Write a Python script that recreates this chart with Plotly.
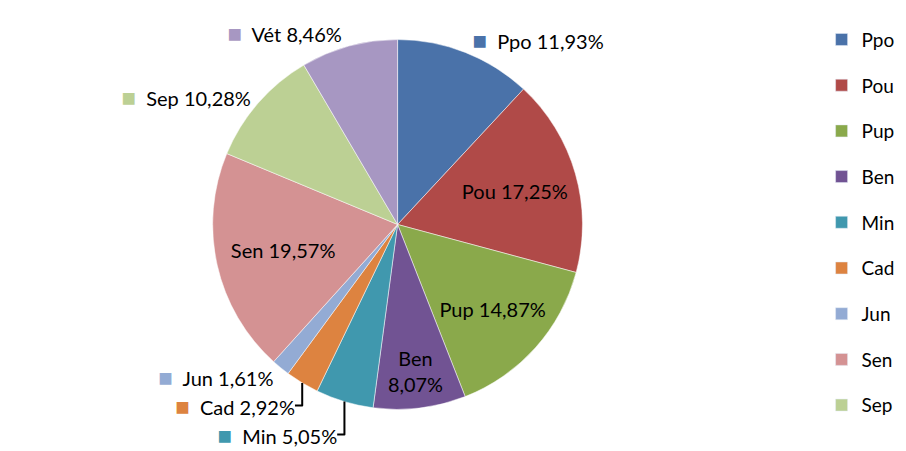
import plotly.graph_objects as go

categories = ["Ppo", "Pou", "Pup", "Ben", "Min", "Cad", "Jun", "Sen", "Sep", "Vét"]
values = [11.93, 17.25, 14.87, 8.07, 5.05, 2.92, 1.61, 19.57, 10.28, 8.46]
colors = ["#4A72A9", "#B04A48", "#8AA94B", "#715393", "#4098AE",
          "#DD8340", "#93ABD4", "#D49293", "#BCD094", "#A797C2"]
inside = ["Pou", "Pup", "Ben", "Sen"]
legend_items = categories[:9]

texts = []
positions = []
for c, v, col in zip(categories, values, colors):
    pct = f"{v:.2f}".replace(".", ",") + "%"
    if c in inside:
        if c == "Ben":
            texts.append(f"{c}<br>{pct}")
        else:
            texts.append(f"{c} {pct}")
        positions.append("inside")
    else:
        texts.append(f"<span style='color:{col};font-size:24px'>■</span>  {c} {pct}")
        positions.append("outside")

fig = go.Figure()
fig.add_trace(go.Pie(
    labels=categories, values=values, text=texts, textinfo="text",
    textposition=positions, sort=False, direction="clockwise", rotation=0,
    marker=dict(colors=colors, line=dict(color="white", width=0.5)),
    insidetextorientation="horizontal",
    textfont=dict(family="Lato, sans-serif", size=20, color="black"),
    showlegend=False, automargin=False,
    domain=dict(x=[0.15, 0.71], y=[0.11, 0.93]),
    hoverinfo="label+percent",
))
for c, col in zip(legend_items, colors):
    fig.add_trace(go.Bar(x=[None], y=[None], name=c, marker_color=col,
                         legendgroup=c, showlegend=True))

fig.update_layout(
    width=906, height=451,
    margin=dict(l=0, r=0, t=0, b=0, autoexpand=False),
    paper_bgcolor="white", plot_bgcolor="white",
    xaxis=dict(visible=False), yaxis=dict(visible=False),
    legend=dict(xref="container", yref="container", x=0.898, y=0.972,
                xanchor="left", yanchor="top", maxheight=1.0,
                font=dict(family="Lato, sans-serif", size=19, color="black"),
                tracegroupgap=18, itemwidth=30, bgcolor="rgba(0,0,0,0)"),
)
fig.write_html("out.html")
